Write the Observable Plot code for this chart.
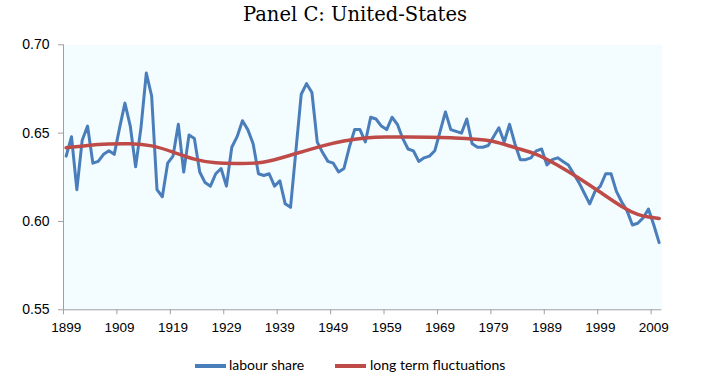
<!DOCTYPE html>
<html>
<head>
<meta charset="utf-8">
<script src="https://cdn.jsdelivr.net/npm/d3@7"></script>
<script src="https://cdn.jsdelivr.net/npm/@observablehq/plot@0.6"></script>
<style>
  html, body { margin: 0; padding: 0; background: #ffffff; }
  #wrap { position: relative; width: 707px; height: 385px; overflow: hidden; }
  #title { position: absolute; left: 0; width: 710px; top: 1px; text-align: center;
           font-family: "DejaVu Serif", serif; font-size: 19.5px; color: #000; line-height: 28px; }
  #chart { position: absolute; left: 0; top: 0; }
  .leg { position: absolute; font-family: Lato, "Open Sans", sans-serif; font-size: 14px; color: #000; line-height: 16px; }
  .sw { position: absolute; height: 3.5px; }
</style>
</head>
<body>
<div id="wrap">
  <div id="chart"></div>
  <div id="title">Panel C: United-States</div>
  <div id="legend"></div>
</div>
<script>
// ---- data ----
const startYear = 1899;
const labourShare = [
  0.637, 0.648, 0.618, 0.646, 0.654, 0.633, 0.634, 0.638, 0.640, 0.638, // 1899-1908
  0.653, 0.667, 0.654, 0.631, 0.653, 0.684, 0.671, 0.618, 0.614, 0.633, // 1909-1918
  0.637, 0.655, 0.628, 0.649, 0.647, 0.628, 0.622, 0.620, 0.627, 0.630, // 1919-1928
  0.620, 0.642, 0.648, 0.657, 0.652, 0.644, 0.627, 0.626, 0.627, 0.620, // 1929-1938
  0.623, 0.610, 0.608, 0.640, 0.672, 0.678, 0.673, 0.645, 0.639, 0.634, // 1939-1948
  0.633, 0.628, 0.630, 0.642, 0.652, 0.652, 0.645, 0.659, 0.658, 0.654, // 1949-1958
  0.652, 0.659, 0.655, 0.647, 0.641, 0.640, 0.634, 0.636, 0.637, 0.640, // 1959-1968
  0.651, 0.662, 0.652, 0.651, 0.650, 0.658, 0.644, 0.642, 0.642, 0.643, // 1969-1978
  0.648, 0.653, 0.645, 0.655, 0.644, 0.635, 0.635, 0.636, 0.640, 0.641, // 1979-1988
  0.632, 0.635, 0.636, 0.634, 0.632, 0.627, 0.622, 0.616, 0.610, 0.617, // 1989-1998
  0.620, 0.627, 0.627, 0.617, 0.611, 0.606, 0.598, 0.599, 0.602, 0.607, // 1999-2008
  0.598, 0.588                                                          // 2009-2010
];
const trendYears = [1899, 1903, 1907, 1911, 1915, 1919, 1923, 1927, 1931, 1935, 1939, 1943,
  1947, 1951, 1955, 1959, 1963, 1967, 1971, 1975, 1979, 1983, 1987, 1991, 1995, 1999,
  2003, 2006, 2008, 2010];
const trendValues = [0.6417, 0.6430, 0.6438, 0.6440, 0.6428, 0.6393, 0.6353, 0.6332, 0.6328, 0.6332, 0.6358, 0.6393,
  0.6428, 0.6455, 0.6472, 0.6478, 0.6478, 0.6477, 0.6474, 0.6467, 0.6453, 0.6418, 0.6380, 0.6318, 0.6245, 0.6165,
  0.6085, 0.6040, 0.6025, 0.6017];
const xLabelYears = [1899, 1909, 1919, 1929, 1939, 1949, 1959, 1969, 1979, 1989, 1999, 2009];
const yTicks = [0.55, 0.60, 0.65, 0.70];
const seriesNames = ["labour share", "long term fluctuations"];
const seriesColors = ["#4a7ebb", "#be4b48"];

// ---- tables ----
const blue = labourShare.map((v, i) => ({year: startYear + i, value: v}));
const red = trendYears.map((y, i) => ({year: y, value: trendValues[i]}));
const xTickMarks = xLabelYears.map(y => y - 0.5);

const chart = Plot.plot({
  width: 707,
  height: 385,
  marginLeft: 63,
  marginRight: 45.7,
  marginTop: 44.3,
  marginBottom: 75.7,
  x: {domain: [startYear - 0.5, startYear + labourShare.length - 0.5], axis: null},
  y: {domain: [yTicks[0], yTicks[yTicks.length - 1]], axis: null},
  style: {background: "transparent", fontFamily: "'Liberation Sans', Arial, sans-serif", color: "#000"},
  marks: [
    Plot.frame({fill: "#f3fcff", stroke: null}),
    Plot.axisY({ticks: yTicks, tickSize: 5, tickPadding: 9, tickFormat: d => d.toFixed(2), label: null,
                stroke: "#a0a0a0", fill: "#000", fontSize: 14}),
    Plot.axisX({ticks: xTickMarks, tickSize: 5, tickFormat: () => "", label: null, stroke: "#a0a0a0"}),
    Plot.ruleX([startYear - 0.5], {stroke: "#a0a0a0"}),
    Plot.ruleY([yTicks[0]], {stroke: "#a0a0a0"}),
    Plot.text(xLabelYears, {x: d => d, frameAnchor: "bottom", dy: 22, text: d => String(d),
                            fontSize: 13.5, fill: "#000"}),
    Plot.line(blue, {x: "year", y: "value", stroke: seriesColors[0], strokeWidth: 3}),
    Plot.line(red, {x: "year", y: "value", stroke: seriesColors[1], strokeWidth: 3.5, curve: "natural"})
  ]
});
document.getElementById("chart").appendChild(chart);

// ---- legend ----
const legend = document.getElementById("legend");
const legendPos = [{sw: 195, tx: 229}, {sw: 335, tx: 370}];
seriesNames.forEach((name, i) => {
  const s = document.createElement("div");
  s.className = "sw";
  s.style.left = legendPos[i].sw + "px";
  s.style.width = "31px";
  s.style.top = "364px";
  s.style.background = seriesColors[i];
  legend.appendChild(s);
  const t = document.createElement("div");
  t.className = "leg";
  t.style.left = legendPos[i].tx + "px";
  t.style.top = "357px";
  t.textContent = name;
  legend.appendChild(t);
});
</script>
</body>
</html>
